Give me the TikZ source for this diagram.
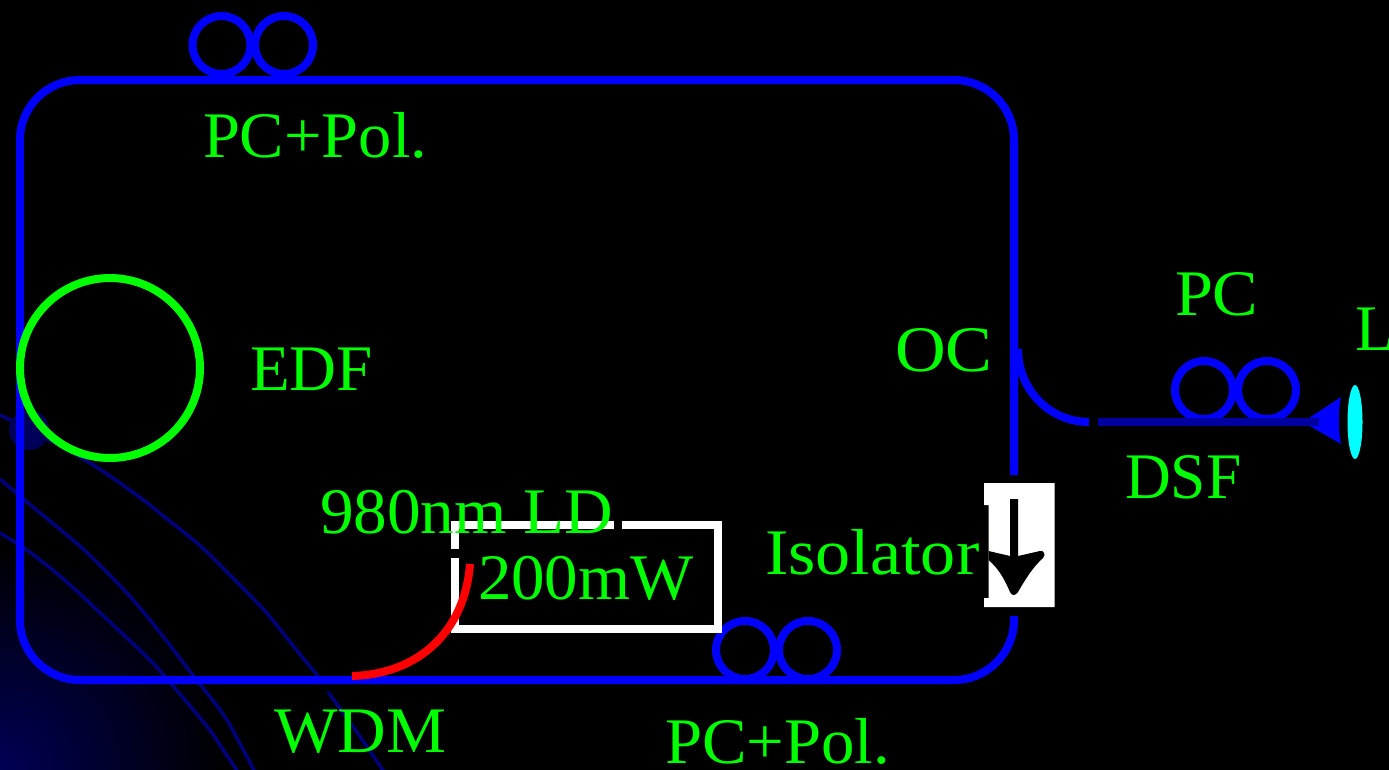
\documentclass[tikz,border=0pt]{standalone}
\usetikzlibrary{shapes.geometric}
\usepackage{graphicx}
\usepackage{fontspec}
\setmainfont{Liberation Serif}
\definecolor{fiber}{RGB}{0,0,255}
\definecolor{dsf}{RGB}{0,0,160}
\definecolor{lab}{RGB}{0,255,0}
\definecolor{faint}{RGB}{0,0,125}
\definecolor{glow}{RGB}{0,0,90}
\definecolor{navy}{RGB}{0,0,85}
\definecolor{lenscol}{RGB}{0,255,255}
\definecolor{wdmred}{RGB}{255,0,0}
\tikzset{
  fib/.style={draw=fiber,line width=8pt},
  pcloop/.style={draw=fiber,line width=8pt,circle,minimum size=58pt,inner sep=0pt,outer sep=0pt},
  faintline/.style={draw=faint,line width=3.5pt},
  lbl/.style={text=lab,anchor=base west,inner sep=0pt,outer sep=0pt,font=\fontsize{65}{70}\selectfont},
  wbox/.style={draw=white,line width=8pt,line cap=butt,line join=miter}
}
\begin{document}
\begin{tikzpicture}[x=1pt,y=-1pt]
\useasboundingbox (0,0) rectangle (1389,769);
\fill[black] (-3,-3) rectangle (1392,772);
\begin{scope}
\clip (-3,-3) rectangle (1392,772);
\shade[inner color=navy,outer color=black] (0,769) circle (225);
\draw[faintline] (0,415) .. controls (40,435) and (60,445) .. (85,460) .. controls (110,475) and (130,490) .. (150,505) .. controls (170,522) and (190,536) .. (208,553) .. controls (230,575) and (250,595) .. (266,612) .. controls (285,635) and (300,655) .. (318,676);
\draw[faintline] (328,692) .. controls (345,715) and (365,743) .. (384,772);
\draw[faintline] (0,479) .. controls (30,505) and (55,525) .. (80,546) .. controls (100,565) and (120,585) .. (135,602) .. controls (152,622) and (170,645) .. (185,665) .. controls (200,685) and (218,705) .. (230,725) .. controls (238,740) and (246,755) .. (255,772);
\draw[faintline] (0,533) .. controls (15,542) and (28,550) .. (40,560) .. controls (60,575) and (78,592) .. (95,608) .. controls (115,627) and (135,645) .. (155,665) .. controls (175,688) and (192,708) .. (210,730) .. controls (220,745) and (228,757) .. (238,772);
\end{scope}
\fill[glow] (29,430) circle (20);
% coordinates for connector ends
\coordinate (isoTop) at (1014,475);
\coordinate (isoBot) at (1014,616);
\coordinate (wdmA) at (352,676);
\coordinate (ldEnd) at (470,564);
\coordinate (ocA) at (1018,349);
\coordinate (ocB) at (1089,422);
\coordinate (dsfA) at (1098,422);
\coordinate (dsfB) at (1319,422);
% main loop
\draw[fib,rounded corners=60pt] (isoTop) -- (1014,80) -- (20,80) -- (20,680) -- (1014,680) -- (isoBot);
% EDF
\node[draw=lab,line width=8pt,circle,minimum size=180pt,inner sep=0pt,outer sep=0pt] (edf) at (110,368) {};
% PCs
\node[pcloop] (pc1a) at (221.5,45) {};
\node[pcloop] (pc1b) at (284,45) {};
\node[pcloop] (pc2a) at (745,650) {};
\node[pcloop] (pc2b) at (808,650) {};
\node[pcloop] (pc3a) at (1204,390) {};
\node[pcloop] (pc3b) at (1267,390) {};
% LD box
\draw[wbox] (622,525) -- (718,525) -- (718,629) -- (455,629) -- (455,558);
\draw[wbox] (455,549) -- (455,525) -- (614,525);
% WDM arm
\draw[draw=wdmred,line width=8pt] (wdmA) .. controls (420,674) and (465,630) .. (ldEnd);
% coupler
\draw[fib] (ocA) .. controls (1018,390) and (1050,422) .. (ocB);
% collimator and lens
\fill[fiber] (1303,422) -- (1341,397) .. controls (1338,412) and (1338,430) .. (1341,444) -- cycle;
\draw[draw=dsf,line width=8pt] (dsfA) -- (dsfB);
\node[fill=lenscol,ellipse,minimum width=15pt,minimum height=74pt,inner sep=0pt] (lens) at (1355,422) {};
% isolator
\fill[white] (984,483) -- (1054.5,483) -- (1054.5,607) -- (984,607) -- (984,598) -- (988.5,598) -- (988.5,505) -- (984,505) -- cycle;
\fill[black] (1010,499) -- (1018,499) -- (1018,556) -- (1040,551) .. controls (1044,550) and (1046,555) .. (1043,558) .. controls (1032,568) and (1025,580) .. (1018,592) .. controls (1015,596) and (1012,596) .. (1010,592) .. controls (1004,578) and (998,568) .. (988.5,560) -- (988.5,551) -- (1010,556) -- cycle;
% labels
\node[lbl] (t1) at (203,157) {\scalebox{1.023}[1]{PC+Pol.}};
\node[lbl] (t2) at (1175,315) {\scalebox{1.05}[1]{PC}};
\node[lbl] (t3) at (1355,350) {L};
\node[lbl] (t4) at (895,371) {\scalebox{1.08}[1]{OC}};
\node[lbl] (t5) at (250,390) {EDF};
\node[lbl] (t6) at (1125,498) {\scalebox{0.975}[1]{DSF}};
\node[lbl] (t7) at (320,533) {\scalebox{1.035}[1]{980nm LD}};
\node[lbl] (t8) at (478,599) {\scalebox{1.03}[1]{200mW}};
\node[lbl] (t9) at (765,574) {\scalebox{1.08}[1]{Isolator}};
\node[lbl] (t10) at (274,752) {\scalebox{1.036}[1]{WDM}};
\node[lbl] (t11) at (665,763) {\scalebox{1.028}[1]{PC+Pol.}};
\end{tikzpicture}
\end{document}
